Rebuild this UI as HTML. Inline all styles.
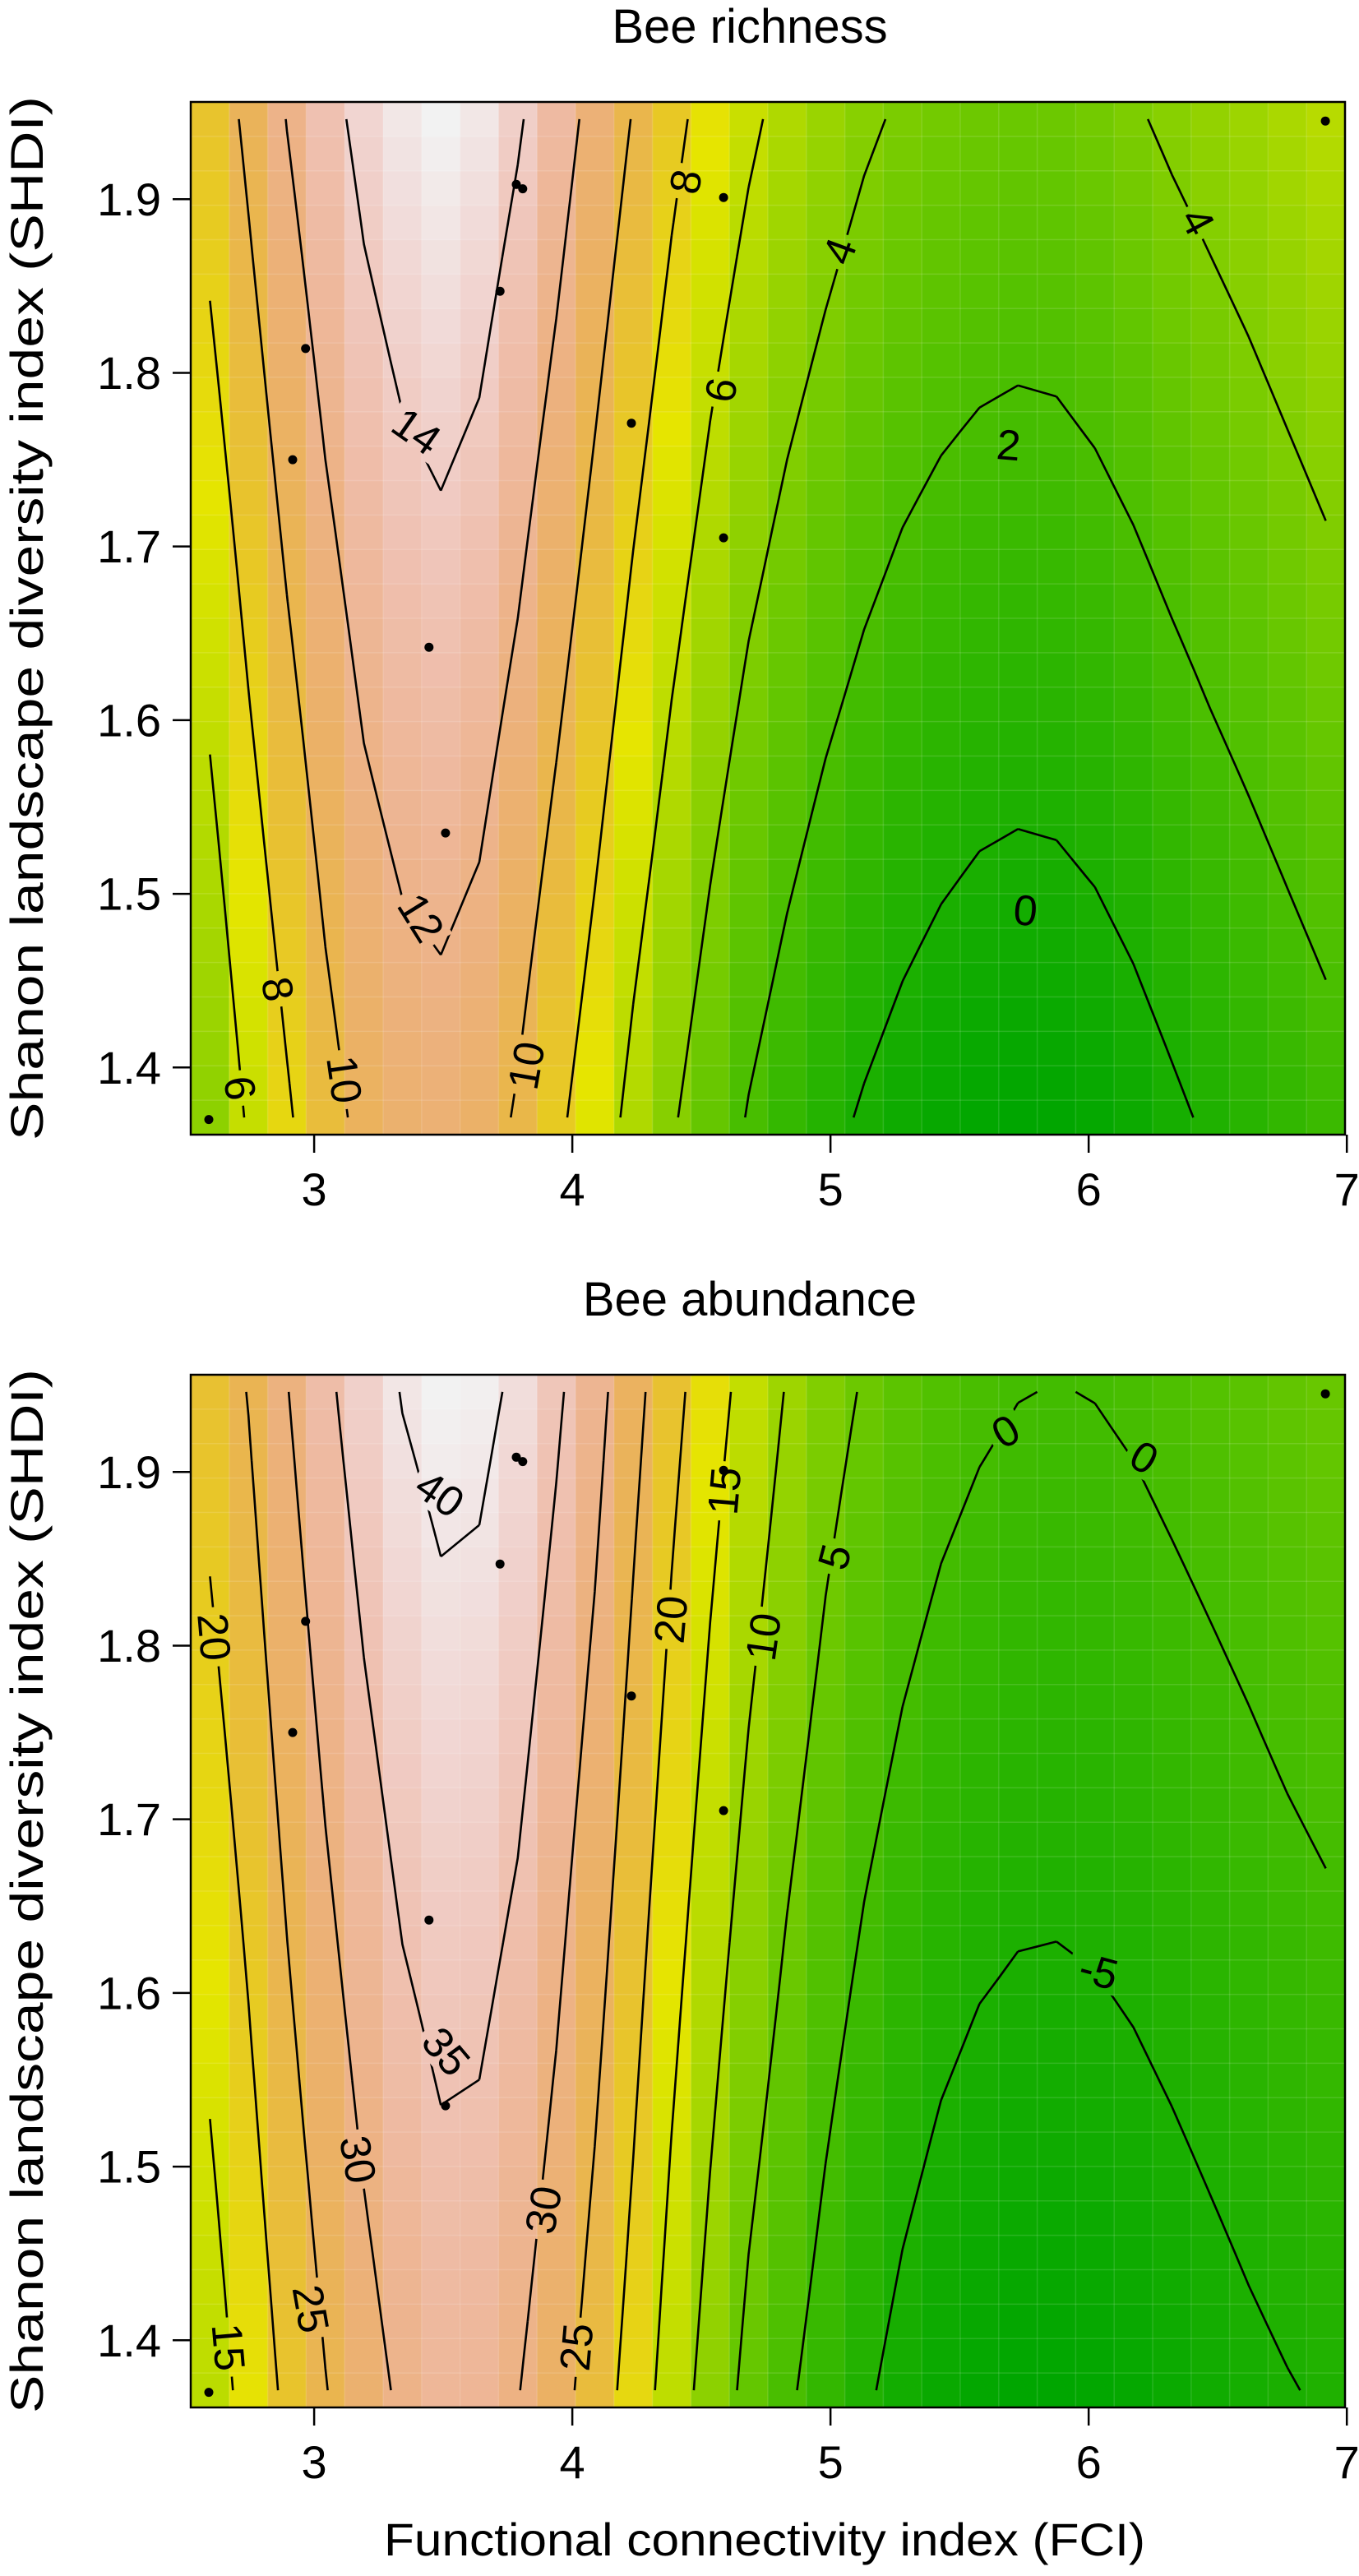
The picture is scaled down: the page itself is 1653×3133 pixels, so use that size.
<!DOCTYPE html>
<html><head><meta charset="utf-8"><title>Bee richness and abundance contour plots</title>
<style>
html,body{margin:0;padding:0;background:#fff;}
svg{display:block;font-family:"Liberation Sans",Arial,sans-serif;}
</style></head>
<body>
<svg id="chart" xmlns="http://www.w3.org/2000/svg" width="1653" height="3133" viewBox="0 0 1653 3133">
<rect x="0" y="0" width="1653" height="3133" fill="#ffffff"/>
<text x="912" y="52" font-size="58" text-anchor="middle">Bee richness</text>
<text x="912" y="1600" font-size="58" text-anchor="middle">Bee abundance</text>
<text x="930" y="3108" font-size="56" text-anchor="middle" textLength="926" lengthAdjust="spacingAndGlyphs">Functional connectivity index (FCI)</text>
<text transform="translate(52,752) rotate(-90)" font-size="56" text-anchor="middle" textLength="1270" lengthAdjust="spacingAndGlyphs">Shanon landscape diversity index (SHDI)</text>
<text transform="translate(52,2300) rotate(-90)" font-size="56" text-anchor="middle" textLength="1270" lengthAdjust="spacingAndGlyphs">Shanon landscape diversity index (SHDI)</text>
</svg>
<script>
// ---- data ----
const richTop=[8.8,10.4,12.05,13.4,14.5,15.2,15.6,15.2,14.2,12.9,11.4,9.9,8.5,7.3,6.3,5.5,4.85,4.25,3.8,3.5,3.3,3.2,3.25,3.5,3.85,4.25,4.6,4.95,5.35,5.75];
const richBot=[4.4,6.2,7.75,9.3,10.5,11.1,11.3,10.9,9.8,8.4,7.0,5.5,4.2,3.0,1.9,1.1,0.4,-0.15,-0.6,-0.95,-1.2,-1.3,-1.25,-1.05,-0.7,-0.25,0.2,0.6,1.0,1.4];
const abunTop=[21.7,25.2,29.8,34.0,37.5,40.2,41.5,41.2,39.2,35.8,31.8,26.6,21.6,17.1,13.2,9.7,6.8,4.6,2.9,1.6,0.7,0.1,-0.1,0.1,0.6,1.3,2.0,2.7,3.5,4.2];
const abunBot=[12.5,16.7,21.0,24.8,28.1,30.8,32.4,32.2,30.2,27.0,22.8,18.0,12.7,8.0,3.7,0.7,-2.0,-4.4,-6.3,-7.7,-8.6,-9.0,-9.0,-8.7,-8.2,-7.5,-6.7,-5.9,-5.2,-4.6];
const richLevels=[0,2,4,6,8,10,12,14];
const abunLevels=[-5,0,5,10,15,20,25,30,35,40];
const siteX=[6.917,3.783,3.808,4.586,3.720,2.967,4.229,2.917,4.586,3.445,3.509,2.592];
const siteY=[1.945,1.9085,1.906,1.901,1.847,1.814,1.771,1.750,1.705,1.642,1.535,1.370];
const xTicks=[3,4,5,6,7];
const yTicks=[1.4,1.5,1.6,1.7,1.8,1.9];
const richLabText=["6","8","10","12","14","10","8","6","4","2","0","4"];
const richLabX=[2.710,2.856,3.114,3.411,3.395,3.825,4.442,4.579,5.038,5.69,5.755,6.420];
const richLabY=[1.388,1.445,1.393,1.486,1.766,1.401,1.910,1.790,1.870,1.758,1.490,1.887];
const richLabA=[82,80,82,58,35,-80,-80,-80,-70,5,5,62];
const abunLabText=["20","15","25","30","35","40","30","25","20","15","10","5","0","0","-5"];
const abunLabX=[2.610,2.665,2.984,3.167,3.509,3.485,3.891,4.019,4.385,4.592,4.743,5.019,5.680,6.213,6.038];
const abunLabY=[1.805,1.396,1.418,1.504,1.566,1.887,1.475,1.396,1.815,1.889,1.805,1.851,1.923,1.908,1.612];
const abunLabA=[85,85,80,80,50,35,-80,-85,-85,-85,-82,-75,-30,30,15];

// ---- axes ----
const X0=2.522, X1=6.993, Y0=1.3613, Y1=1.956;
const NC=30, NR=30;
const PX0=232, PX1=1636;
function sx(v){return PX0+(v-X0)*(PX1-PX0)/(X1-X0);}
function syFn(top){return function(v){return top+(Y1-v)*1256/(Y1-Y0);};}
const NS="http://www.w3.org/2000/svg";
const svg=document.getElementById('chart');
function el(tag,attrs,parent){const e=document.createElementNS(NS,tag);for(const k in attrs)e.setAttribute(k,attrs[k]);(parent||svg).appendChild(e);return e;}

function hsv(h,s,v){const c=v*s,hp=h/60,x=c*(1-Math.abs(hp%2-1));let r=0,g=0,b=0;
 if(hp<1){r=c;g=x;}else if(hp<2){r=x;g=c;}else if(hp<3){g=c;b=x;}else if(hp<4){g=x;b=c;}else if(hp<5){r=x;b=c;}else{r=c;b=x;}
 const m=v-c;return 'rgb('+Math.round((r+m)*255)+','+Math.round((g+m)*255)+','+Math.round((b+m)*255)+')';}
function terrain(t){t=Math.max(0,Math.min(1,t));
 if(t<0.5){const u=t/0.5;return hsv(120-60*u,1,0.65+0.25*u);}
 const u=(t-0.5)/0.5;return hsv(60-60*u,1-u,0.9+0.05*u);}

function colX(i){return X0+(i+0.5)*(X1-X0)/NC;}
function rowY(j){return Y0+(j+0.5)*(Y1-Y0)/NR;}

function panel(key,top,zT,zB,levels,labT,labX,labY,labA){
 const sy=syFn(top);
 const g=el('g',{});
 
 
 const z=(i,j)=>zB[i]+(zT[i]-zB[i])*j/(NR-1);
 const all=zT.concat(zB);const zmin=Math.min(...all),zmax=Math.max(...all);
 const cw=(PX1-PX0)/NC, ch=1256/NR;
 const hm=el('g',{},g);
 
 
 for(let i=0;i<NC;i++)for(let j=0;j<NR;j++){
  const cx=sx(colX(i)), cy=sy(rowY(j));
  const r=el('rect',{x:(cx-cw/2).toFixed(2),y:(cy-ch/2).toFixed(2),width:(cw+0.6).toFixed(2),height:(ch+0.6).toFixed(2),fill:terrain((z(i,j)-zmin)/(zmax-zmin))},hm);
  
  
 }
 const gl=el('g',{stroke:'#ffffff','stroke-opacity':'0.13','stroke-width':'1.5'},g);
 
 
 for(let i=1;i<NC;i++){const x=PX0+i*cw;el('line',{x1:x,y1:top,x2:x,y2:top+1256},gl);}
 for(let j=1;j<NR;j++){const y=top+j*ch;el('line',{x1:PX0,y1:y,x2:PX1,y2:y},gl);}
 const fs=52;
 const defs=el('defs',{},g);
 const mask=el('mask',{id:key+'-mask',maskUnits:'userSpaceOnUse',x:0,y:0,width:1653,height:3133},defs);
 el('rect',{x:0,y:0,width:1653,height:3133,fill:'#fff'},mask);
 for(let k=0;k<labT.length;k++){
  const w=labT[k].length*0.56*fs+14, h=fs*0.9;
  el('rect',{x:-w/2,y:-h/2,width:w,height:h,fill:'#000',transform:'translate('+sx(labX[k]).toFixed(1)+','+sy(labY[k]).toFixed(1)+') rotate('+labA[k]+')'},mask);
 }
 const cg=el('g',{mask:'url(#'+key+'-mask)',fill:'none',stroke:'#000','stroke-width':'2.6','stroke-linejoin':'round'},g);
 
 
 for(const L0 of levels){
  const L=L0+1e-7;let d='';
  for(let i=0;i<NC-1;i++)for(let j=0;j<NR-1;j++){
   const c=[[i,j],[i+1,j],[i+1,j+1],[i,j+1]];
   const pts=[];
   for(let e=0;e<4;e++){
    const p=c[e],q=c[(e+1)%4];const a=z(p[0],p[1]),b=z(q[0],q[1]);
    if((a-L)*(b-L)<0){const t=(L-a)/(b-a);
     const xv=colX(p[0])+t*(colX(q[0])-colX(p[0]));const yv=rowY(p[1])+t*(rowY(q[1])-rowY(p[1]));
     pts.push([sx(xv),sy(yv)]);}
   }
   for(let k=0;k+1<pts.length;k+=2)d+='M'+pts[k][0].toFixed(1)+' '+pts[k][1].toFixed(1)+'L'+pts[k+1][0].toFixed(1)+' '+pts[k+1][1].toFixed(1);
  }
  const p=el('path',{d:d},cg);
  
  
 }
 for(let k=0;k<labT.length;k++){
  const t=el('text',{'font-size':fs,'text-anchor':'middle','dominant-baseline':'central',transform:'translate('+sx(labX[k]).toFixed(1)+','+sy(labY[k]).toFixed(1)+') rotate('+labA[k]+')'},g);
  t.textContent=labT[k];
  
  
 }
 for(let k=0;k<siteX.length;k++){
  const c=el('circle',{cx:sx(siteX[k]).toFixed(1),cy:sy(siteY[k]).toFixed(1),r:5.5,fill:'#000'},g);
  
  
 }
 const fr=el('rect',{x:PX0,y:top,width:PX1-PX0,height:1256,fill:'none',stroke:'#000','stroke-width':'2.5'},g);
 
 
 for(const v of xTicks){
  const x=sx(v);
  const tk=el('line',{x1:x,y1:top+1256,x2:x,y2:top+1256+22,stroke:'#000','stroke-width':'2.5'},g);
  
  
  const tl=el('text',{x:x,y:top+1256+86,'font-size':56,'text-anchor':'middle'},g);
  tl.textContent=String(v);
  
  
 }
 for(const v of yTicks){
  const y=sy(v);
  const tk=el('line',{x1:PX0-22,y1:y,x2:PX0,y2:y,stroke:'#000','stroke-width':'2.5'},g);
  
  
  const tl=el('text',{x:196,y:y,'font-size':56,'text-anchor':'end','dominant-baseline':'central'},g);
  tl.textContent=v.toFixed(1);
  
  
 }
}
panel('richness',124,richTop,richBot,richLevels,richLabText,richLabX,richLabY,richLabA);
panel('abundance',1672,abunTop,abunBot,abunLevels,abunLabText,abunLabX,abunLabY,abunLabA);
</script>
</body></html>
